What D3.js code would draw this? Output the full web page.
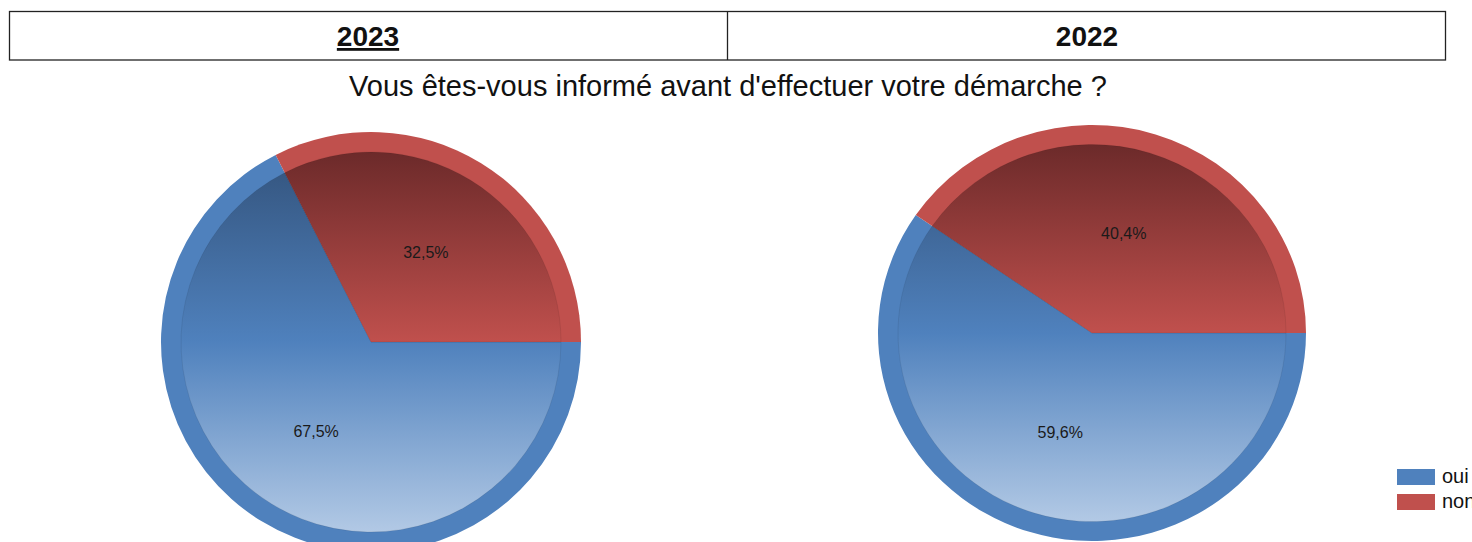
<!DOCTYPE html>
<html lang="fr">
  <head>
    <meta charset="utf-8">
    <script src="https://d3js.org/d3.v7.min.js"></script>
    <style>
      body { margin: 0; background: #fff; }
      text { font-family: "Liberation Sans", Arial, sans-serif; }
    </style>
  </head>
  <body>
    <svg width="1472" height="542"></svg>
    <script>
      // data
      var years = ["2023", "2022"];
      var categories = ["oui", "non"];
      var values2023 = [67.5, 32.5];
      var values2022 = [59.6, 40.4];
      var title = "Vous êtes-vous informé avant d'effectuer votre démarche ?";

      var svg = d3.select("svg");
      var defs = svg.append("defs");

      var ringColor = d3.scaleOrdinal().domain(categories).range(["#4f81bd", "#c0504d"]);
      var gradStops = {
        oui: ["#33537c", "#4f81bd", "#b2c9e5"],
        non: ["#6c2a2a", "#c0504d", "#dba09e"]
      };

      //header table
      var head = svg.append("g");
      head.append("rect")
        .attr("x", 9.5).attr("y", 11.5)
        .attr("width", 1436).attr("height", 48.5)
        .attr("fill", "none").attr("stroke", "#222").attr("stroke-width", 1.3);
      head.append("line")
        .attr("x1", 727.5).attr("x2", 727.5)
        .attr("y1", 11.5).attr("y2", 60)
        .attr("stroke", "#222").attr("stroke-width", 1.3);
      head.selectAll(".yr")
        .data(years)
        .enter()
        .append("text")
        .attr("class", "yr")
        .attr("x", function (d, i) { return i == 0 ? 368 : 1087; })
        .attr("y", 46)
        .attr("text-anchor", "middle")
        .attr("font-size", "28px")
        .attr("font-weight", "bold")
        .attr("fill", "#111")
        .attr("text-decoration", function (d, i) { return i == 0 ? "underline" : null; })
        .text(function (d) { return d; });

      //title
      svg.append("text")
        .attr("x", 728)
        .attr("y", 96)
        .attr("text-anchor", "middle")
        .attr("font-size", "29px")
        .attr("fill", "#111")
        .text(title);

      var pie = d3.pie()
        .sort(null)
        .startAngle(Math.PI / 2)
        .endAngle(Math.PI / 2 + 2 * Math.PI)
        .value(function (d) { return d.v; });

      var charts = [
        { id: "a", values: values2023, cx: 371, cy: 342, r: 210, sy: 1 },
        { id: "b", values: values2022, cx: 1092, cy: 333, r: 214, sy: 208 / 214 }
      ];

      charts.forEach(function (c) {
        var ri = c.r - 20;
        var data = categories.map(function (k, i) { return { k: k, v: c.values[i] }; });
        var arcs = pie(data);

        // vertical gradient per slice, across the inner disc
        categories.forEach(function (k) {
          var g = defs.append("linearGradient")
            .attr("id", "g" + c.id + k)
            .attr("gradientUnits", "userSpaceOnUse")
            .attr("x1", 0).attr("x2", 0)
            .attr("y1", -ri).attr("y2", ri);
          gradStops[k].forEach(function (col, j) {
            g.append("stop").attr("offset", j / 2).attr("stop-color", col);
          });
        });

        var g = svg.append("g")
          .attr("transform", "translate(" + c.cx + "," + c.cy + ") scale(1," + c.sy + ")");

        var outer = d3.arc().innerRadius(0).outerRadius(c.r);
        var inner = d3.arc().innerRadius(0).outerRadius(ri);

        g.selectAll(".ring")
          .data(arcs)
          .enter()
          .append("path")
          .attr("d", outer)
          .attr("fill", function (d) { return ringColor(d.data.k); });

        g.selectAll(".fill")
          .data(arcs)
          .enter()
          .append("path")
          .attr("d", inner)
          .attr("fill", function (d) { return "url(#g" + c.id + d.data.k + ")"; })
          .attr("stroke", "rgba(0,0,0,0.08)")
          .attr("stroke-width", 1);

        var lab = d3.arc().innerRadius(c.r * 0.5).outerRadius(c.r * 0.5);
        svg.append("g")
          .attr("transform", "translate(" + c.cx + "," + c.cy + ")")
          .selectAll("text")
          .data(arcs)
          .enter()
          .append("text")
          .attr("transform", function (d) {
            var p = lab.centroid(d);
            return "translate(" + p[0] + "," + p[1] * c.sy + ")";
          })
          .attr("text-anchor", "middle")
          .attr("dy", "0.35em")
          .attr("font-size", "16px")
          .attr("fill", "#1a1a1a")
          .text(function (d) { return String(d.data.v).replace(".", ",") + "%"; });
      });

      //legend
      var leg = svg.append("g").attr("transform", "translate(1397,469)");
      leg.selectAll("rect")
        .data(categories)
        .enter()
        .append("rect")
        .attr("x", 0)
        .attr("y", function (d, i) { return i * 25; })
        .attr("width", 38)
        .attr("height", 16)
        .attr("fill", function (d) { return ringColor(d); });
      leg.selectAll("text")
        .data(categories)
        .enter()
        .append("text")
        .attr("x", 45)
        .attr("y", function (d, i) { return i * 25 + 14; })
        .attr("font-size", "20px")
        .attr("fill", "#111")
        .text(function (d) { return d; });
    </script>
  </body>
</html>
